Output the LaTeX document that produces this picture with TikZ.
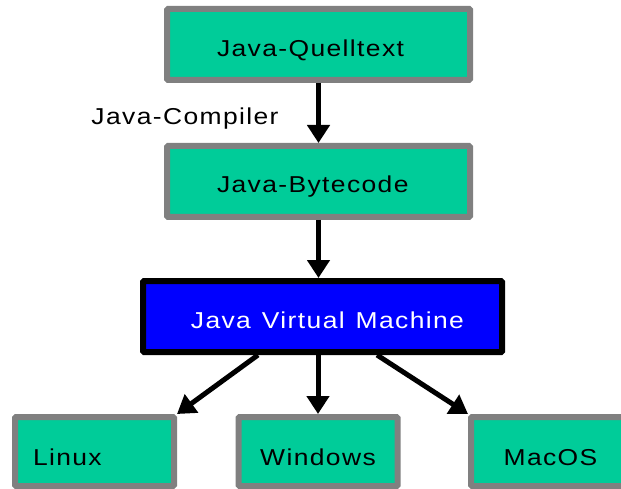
\documentclass[tikz,border=0pt]{standalone}
\usepackage{fontspec}
\newfontfamily\dfont[LetterSpace=6,FakeStretch=1.15]{Liberation Sans}
\usetikzlibrary{arrows.meta,calc}
\definecolor{jgreen}{RGB}{0,204,153}
\definecolor{jgray}{RGB}{128,128,128}
\definecolor{jblue}{RGB}{0,0,255}
\tikzset{
  dtext/.style={font={\dfont\fontsize{23}{27}\selectfont}},
  gbox/.style={dtext, draw=jgray, fill=jgreen, line width=6pt, rounded corners=1pt,
    inner sep=0pt, text depth=0pt, text=black},
  topbox/.style={gbox, minimum width=303pt, minimum height=71pt, text width=203pt, align=left},
  osbox/.style={gbox, minimum width=159pt, minimum height=69pt, text height=27pt},
  vmbox/.style={dtext, draw=black, fill=jblue, line width=6pt, rounded corners=1pt,
    inner sep=0pt, text depth=0pt, text height=23pt, text=white,
    minimum width=359pt, minimum height=71pt, text width=283pt, align=right},
  arr/.style={line width=5pt, -{Triangle[width=22pt,length=18pt]}}
}
\begin{document}
\begin{tikzpicture}[x=1pt,y=-1pt]
\useasboundingbox (0,0) rectangle (621,489);
\clip (0,0) rectangle (621,489);
\node[topbox, text height=25pt] (q) at (318.5,44.5) {Java-Quelltext};
\node[topbox, text height=23pt] (b) at (318.5,181.5) {Java-Bytecode};
\node[vmbox] (jvm) at (322.5,316.5) {Java\hspace{11pt}Virtual\hspace{11pt}Machine};
\node[osbox, text width=123pt, align=left] (linux) at (94.5,451.5) {Linux};
\node[osbox] (win) at (318,451.5) {Windows};
\node[osbox] (mac) at (550.5,451.5) {MacOS};
\node[dtext, anchor=base, inner sep=0pt] (comp) at (185,125) {Java-Compiler};
\draw[arr] (q.south -| b.north) -- (b.north);
\draw[arr] (b.south) -- (b.south |- jvm.north);
\coordinate (jc) at (jvm.south -| win.north);
\draw[arr] ([xshift=-60pt]jc) -- (linux.north east);
\draw[arr] (jc) -- (win.north);
\draw[arr] ([xshift=59pt]jc) -- (mac.north west);
\end{tikzpicture}
\end{document}
